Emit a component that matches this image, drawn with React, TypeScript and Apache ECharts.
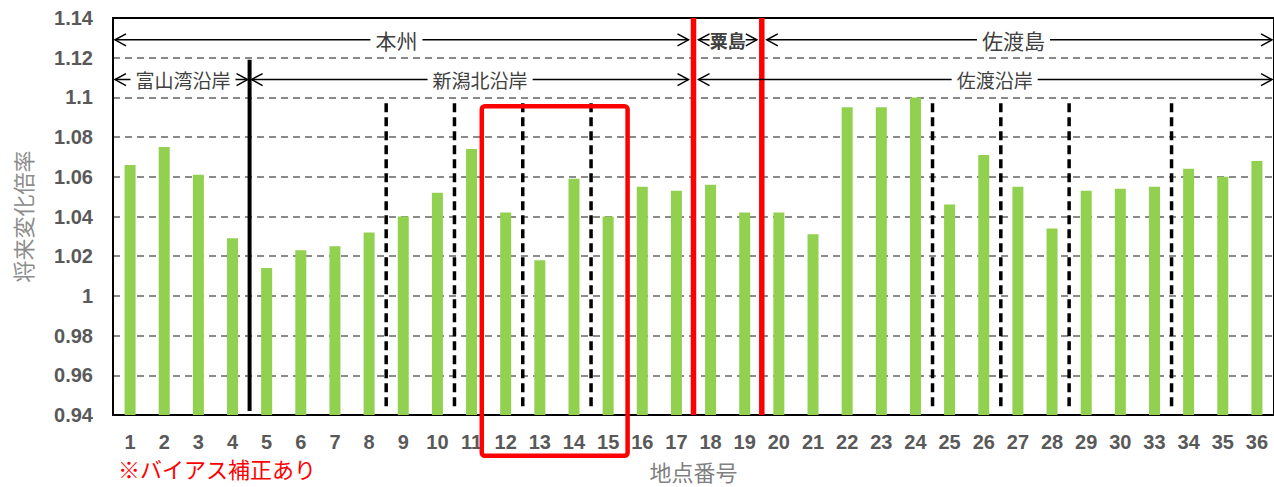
import React, { useEffect, useRef } from "react";
import * as echarts from "echarts";

// ---- data ----
const categories = ["1","2","3","4","5","6","7","8","9","10","11","12","13","14","15","16","17","18","19","20","21","22","23","24","25","26","27","28","29","30","33","34","35","36"];
const ratios = [1.066,1.075,1.061,1.029,1.014,1.023,1.025,1.032,1.040,1.052,1.074,1.042,1.018,1.059,1.040,1.055,1.053,1.056,1.042,1.042,1.031,1.095,1.095,1.100,1.046,1.071,1.055,1.034,1.053,1.054,1.055,1.064,1.060,1.068];

const yMin = 0.94;
const yMax = 1.14;
const yStep = 0.02;

// region spans (in category-boundary units)
const spanLabels = ["本州", "粟島", "佐渡島", "富山湾沿岸", "新潟北沿岸", "佐渡沿岸"];
const spanStart = [0, 17, 19, 0, 4, 17];
const spanEnd = [17, 19, 34, 4, 17, 34];
const spanRow = [1.129, 1.129, 1.129, 1.109, 1.109, 1.109];
const spanTextAt = [8.3, 18, 26.37, 2.05, 10.75, 25.82];

// boundary lines
const solidBreaks = [4];
const solidTop = 1.119;
const dashedBreaks = [8, 10, 12, 14, 24, 26, 28, 31];
const dashedTop = 1.097;
const breakBottom = 0.942;
const redBreaks = [17, 19];

// highlight box [x1, x2, yTop, yBottom]
const highlightBox = [[10.8, 15.07, 1.0955, 0.9195]];

const noteText = "※バイアス補正あり";

export default function App() {
  const ref = useRef<HTMLDivElement>(null);
  useEffect(() => {
    document.body.style.margin = "0";
    const chart = echarts.init(ref.current!, null, { renderer: "svg" });
    const numFont = "'Liberation Sans', Arial, sans-serif";
    const jpFont = "'Noto Sans CJK JP', sans-serif";
    chart.setOption({
      animation: false,
      grid: {
        left: 113, right: -3, top: 18, bottom: 72,
        show: true, borderColor: "#000", borderWidth: 2, backgroundColor: "transparent",
      },
      xAxis: [
        {
          type: "category",
          data: categories,
          boundaryGap: true,
          axisLine: { show: true, lineStyle: { color: "#000", width: 2 } },
          axisTick: { show: false },
          axisLabel: { interval: 0, color: "#595959", fontSize: 20, fontWeight: "bold", fontFamily: numFont, margin: 17 },
          name: "地点番号",
          nameLocation: "middle",
          nameGap: 45,
          nameTextStyle: { color: "#808080", fontSize: 22, fontFamily: jpFont },
        },
        { type: "value", min: 0, max: categories.length, show: false },
      ],
      yAxis: {
        type: "value",
        min: yMin,
        max: yMax,
        interval: yStep,
        axisLine: { show: true, lineStyle: { color: "#000", width: 2 } },
        axisTick: { show: false },
        axisLabel: {
          color: "#595959", fontSize: 20, fontWeight: "bold", fontFamily: numFont, margin: 20,
          formatter: (v: number) => String(parseFloat(v.toFixed(2))),
        },
        splitLine: { show: true, showMinLine: false, showMaxLine: false, lineStyle: { color: "#8a8a8a", width: 2, type: [7, 5] } },
        name: "将来変化倍率",
        nameLocation: "middle",
        nameRotate: 90,
        nameGap: 80,
        nameTextStyle: { color: "#8c8c8c", fontSize: 22, fontFamily: jpFont },
      },
      graphic: [
        {
          type: "text", left: 118, top: 457,
          style: { text: noteText, fill: "#ff0000", fontSize: 22, fontFamily: jpFont },
        },
      ],
      series: [
        {
          type: "bar",
          data: ratios,
          barWidth: 11,
          itemStyle: { color: "#92D050" },
          z: 2,
        },
        {
          type: "custom",
          xAxisIndex: 1,
          data: redBreaks.map((x) => [x]),
          z: 5,
          renderItem: (params: any, api: any) => {
            const a = api.coord([api.value(0), yMax]);
            const b = api.coord([api.value(0), yMin]);
            return { type: "line", shape: { x1: a[0], y1: a[1], x2: b[0], y2: b[1] }, style: { stroke: "#ff0000", lineWidth: 5.5 } };
          },
        },
        {
          type: "custom",
          xAxisIndex: 1,
          data: solidBreaks.map((x) => [x]),
          z: 5,
          renderItem: (params: any, api: any) => {
            const a = api.coord([api.value(0), solidTop]);
            const b = api.coord([api.value(0), breakBottom]);
            return { type: "line", shape: { x1: a[0], y1: a[1], x2: b[0], y2: b[1] }, style: { stroke: "#000", lineWidth: 4 } };
          },
        },
        {
          type: "custom",
          xAxisIndex: 1,
          data: dashedBreaks.map((x) => [x]),
          z: 5,
          renderItem: (params: any, api: any) => {
            const a = api.coord([api.value(0), dashedTop]);
            const b = api.coord([api.value(0), breakBottom]);
            return { type: "line", shape: { x1: a[0], y1: a[1], x2: b[0], y2: b[1] }, style: { stroke: "#000", lineWidth: 3.5, lineDash: [9, 5] } };
          },
        },
        {
          type: "custom",
          xAxisIndex: 1,
          data: highlightBox,
          z: 6,
          clip: false,
          renderItem: (params: any, api: any) => {
            const a = api.coord([api.value(0), api.value(2)]);
            const b = api.coord([api.value(1), api.value(3)]);
            return {
              type: "rect",
              shape: { x: a[0], y: a[1], width: b[0] - a[0], height: b[1] - a[1], r: 3 },
              style: { stroke: "#ff0000", lineWidth: 4.5, fill: "none" },
            };
          },
        },
        {
          type: "custom",
          xAxisIndex: 1,
          data: spanLabels.map((t, i) => [spanStart[i], spanEnd[i], spanRow[i], spanTextAt[i], t]),
          z: 7,
          clip: false,
          renderItem: (params: any, api: any) => {
            const i = params.dataIndex;
            const y = api.value(2);
            const p1 = api.coord([api.value(0), y]);
            const p2 = api.coord([api.value(1), y]);
            const pt = api.coord([api.value(3), y]);
            const redSet = new Set(redBreaks);
            const inL = redSet.has(api.value(0)) ? 5 : 2;
            const inR = redSet.has(api.value(1)) ? 5 : 2;
            const xl = p1[0] + inL;
            const xr = Math.min(p2[0] - inR, 1273);
            const yy = p1[1];
            const bold = spanLabels[i] === "粟島";
            const topRow = y > 1.12;
            return {
              type: "group",
              children: [
                { type: "line", shape: { x1: xl, y1: yy, x2: xr, y2: yy }, style: { stroke: "#000", lineWidth: 1.5 } },
                {
                  type: "text",
                  style: {
                    text: spanLabels[i], x: pt[0], y: yy, align: "center", verticalAlign: "middle",
                    fill: "#404040", fontSize: bold ? 18 : topRow ? 21 : 19, fontWeight: bold ? "bold" : "normal",
                    fontFamily: jpFont, backgroundColor: "#fff", padding: bold ? [0, 0] : [0, 5],
                  },
                },
                { type: "polyline", shape: { points: [[xl + 11, yy - 6], [xl, yy], [xl + 11, yy + 6]] }, style: { stroke: "#000", lineWidth: 1.5, fill: "none" } },
                { type: "polyline", shape: { points: [[xr - 11, yy - 6], [xr, yy], [xr - 11, yy + 6]] }, style: { stroke: "#000", lineWidth: 1.5, fill: "none" } },
              ],
            };
          },
        },
      ],
    });
    return () => chart.dispose();
  }, []);
  return <div ref={ref} style={{ position: "absolute", left: 0, top: 0, width: 1274, height: 487 }} />;
}
